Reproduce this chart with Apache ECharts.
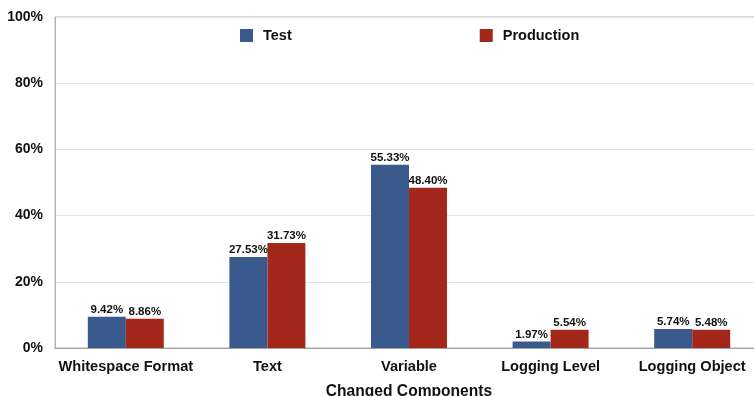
<!DOCTYPE html>
<html>
<head>
<meta charset="utf-8">
<script src="https://cdn.jsdelivr.net/npm/echarts@6/dist/echarts.min.js"></script>
<style>
  html, body { margin: 0; padding: 0; background: #fff; overflow: hidden; }
  #chart { width: 763px; height: 396px; }
</style>
</head>
<body>
<div id="chart"></div>
<script>
// Share of changed components, test vs production logging code
const categories = ['Whitespace Format', 'Text', 'Variable', 'Logging Level', 'Logging Object'];
const testValues = [9.42, 27.53, 55.33, 1.97, 5.74];
const productionValues = [8.86, 31.73, 48.40, 5.54, 5.48];
const seriesNames = ['Test', 'Production'];

const FONT = '"Liberation Sans", Arial, Helvetica, sans-serif';
const BLUE = '#3a5a8d';
const RED = '#a3281b';

const chart = echarts.init(document.getElementById('chart'), null, { renderer: 'canvas' });

const labelStyle = {
  show: true,
  position: 'top',
  distance: 1,
  color: '#111',
  fontFamily: FONT,
  fontWeight: 'bold',
  fontSize: 11.5,
  formatter: p => p.value.toFixed(2) + '%'
};

chart.setOption({
  animation: false,
  backgroundColor: '#ffffff',
  textStyle: { fontFamily: FONT },
  legend: {
    data: seriesNames,
    left: 240,
    top: 28,
    padding: 0,
    itemWidth: 13,
    itemHeight: 13,
    itemGap: 188,
    icon: 'rect',
    textStyle: { fontFamily: FONT, fontWeight: 'bold', fontSize: 14.5, color: '#111', padding: [0, 0, 0, 5] }
  },
  grid: {
    left: 55,
    top: 17,
    right: 0,
    height: 331,
    containLabel: false,
    outerBoundsMode: 'none',
    show: true,
    borderColor: '#b4b4b4',
    borderWidth: 1
  },
  xAxis: {
    type: 'category',
    data: categories,
    name: 'Changed Components',
    nameLocation: 'middle',
    nameGap: 36,
    nameTextStyle: { fontFamily: FONT, fontWeight: 'bold', fontSize: 15.6, color: '#111' },
    axisLine: { lineStyle: { color: '#a0a0a0', width: 1 } },
    axisTick: { show: false },
    axisLabel: {
      interval: 0,
      margin: 11,
      color: '#111',
      fontFamily: FONT,
      fontWeight: 'bold',
      fontSize: 14.6
    }
  },
  yAxis: {
    type: 'value',
    min: 0,
    max: 100,
    interval: 20,
    axisLine: { show: true, lineStyle: { color: '#b4b4b4' } },
    axisTick: { show: false },
    splitLine: { lineStyle: { color: '#e2e2e2', width: 1 } },
    axisLabel: {
      margin: 12,
      color: '#111',
      fontFamily: FONT,
      fontWeight: 'bold',
      fontSize: 14,
      formatter: v => v + '%'
    }
  },
  series: [
    {
      name: seriesNames[0],
      type: 'bar',
      data: testValues,
      barWidth: 38,
      barGap: '0%',
      itemStyle: { color: BLUE },
      label: labelStyle
    },
    {
      name: seriesNames[1],
      type: 'bar',
      data: productionValues,
      barWidth: 38,
      barGap: '0%',
      itemStyle: { color: RED },
      label: labelStyle
    }
  ]
});
</script>
</body>
</html>
